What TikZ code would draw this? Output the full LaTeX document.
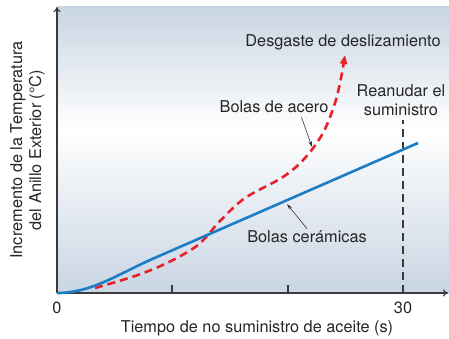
\documentclass[tikz,border=0pt]{standalone}
\usepackage{fontspec}
\setmainfont{TeX Gyre Heros}
\usepackage{xcolor}
\usepackage{tikz}
\usetikzlibrary{arrows.meta}
\usetikzlibrary{calc}

\definecolor{fondo}{HTML}{C9D5E3}
\definecolor{rojo}{HTML}{E8202A}
\definecolor{azul}{HTML}{1B7DC4}
\definecolor{eje}{HTML}{3A3A3A}

\tikzset{
	etiqueta/.style={font=\fontsize{16.3}{19}\selectfont, text=black!85, inner sep=1pt},
	flecha/.style={-{Stealth[length=6pt,width=3.5pt]}, line width=0.6pt, black!80},
	marca/.style={line width=1.6pt, eje}
}

\begin{document}
\begin{tikzpicture}[x=1pt,y=1pt]
		\useasboundingbox (0,0) rectangle (449,338);
		\shade[top color=fondo, bottom color=white] (57,208) rectangle (449,331);
		\shade[top color=white, bottom color=fondo] (57,45) rectangle (449,208);
		\draw [-{To[length=5pt,width=7pt]},line width=1.2pt,eje](57,45) -- (448,45) coordinate(x axis);
		\draw [-{To[length=5pt,width=7pt]},line width=1.2pt,eje](57,45) -- (57,331) coordinate(y axis);
		\draw[marca] (172,45) -- (172,53);
		\draw[marca] (288,45) -- (288,53);
		\draw[dash pattern=on 8pt off 5pt, line width=1.1pt, eje] (403,45) -- (403,218);
		% acero
		\draw[rojo, line width=2.6pt, dash pattern=on 8pt off 5pt, -{Triangle[length=9pt,width=7pt]}]
			plot[smooth, tension=0.55] coordinates {(95,50) (135,62) (167,75) (198,93) (220,117) (245,140) (283,161) (305,180) (323,205) (335,235) (341,260) (345,283)};
		% ceramica
		\draw[azul, line width=2.6pt]
			(57,45) .. controls (90,45) and (115,62) .. (150,78) -- (418,195);
		\coordinate (p acero) at (312,191);
		\coordinate (p ceramica) at (287,134);
		\node[etiqueta] (desgaste) at (343,296) {Desgaste de deslizamiento};
		\node[etiqueta] (acero) at (274,231) {Bolas de acero};
		\node[etiqueta, align=center] (reanudar) at (401,238) {Reanudar el\\suministro};
		\node[etiqueta] (ceramica) at (307,101) {Bolas cerámicas};
		\draw[flecha] ($(acero.south east)+(-28,-3)$) -- (p acero);
		\draw[flecha] ($(ceramica.north)+(0,1)$) -- (p ceramica);
		\node[etiqueta] (cero) at (57,30) {0};
		\node[etiqueta] (treinta) at (403,30) {30};
		\node[etiqueta] (tiempo) at (257,10) {Tiempo de no suministro de aceite (s)};
		\node[etiqueta, align=center, rotate=90] (incremento) at (27.5,188) {Incremento de la Temperatura\\del Anillo Exterior (°C)};
	\end{tikzpicture}
\end{document}
